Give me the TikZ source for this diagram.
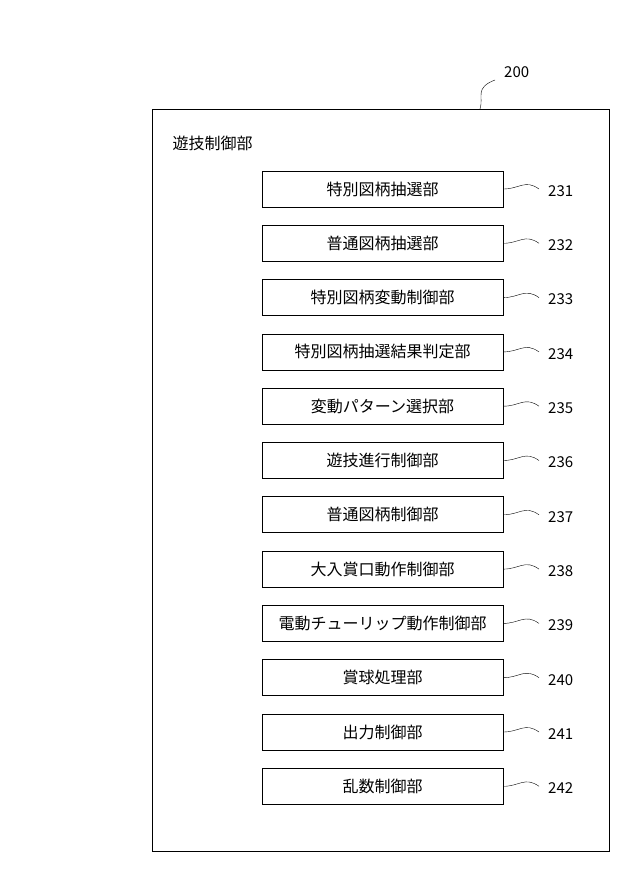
\documentclass[tikz,border=0pt]{standalone}
\usepackage{fontspec}
\setmainfont{Noto Sans CJK JP}
\begin{document}
\begin{tikzpicture}[x=1pt,y=-1pt,
  partbox/.style={draw, line width=0.8pt, minimum width=241pt, minimum height=36pt, font=\fontsize{16}{16}\selectfont},
  reflabel/.style={font=\fontsize{15}{15}\selectfont, anchor=west, inner sep=1pt}]
\useasboundingbox (0,0) rectangle (640,876);
\draw[line width=0.8pt] (152,109) rectangle (609,851);
\node[anchor=west, font=\fontsize{16}{16}\selectfont] (title) at (169,143) {遊技制御部};
\coordinate (top) at (480,109);
\coordinate (end200) at (495,80);
\node[reflabel] (lbl200) at (503,72) {200};
\draw (top) .. controls (484,97) and (474,88) .. (end200);
\foreach \i/\name in {0/特別図柄抽選部, 1/普通図柄抽選部, 2/特別図柄変動制御部, 3/特別図柄抽選結果判定部, 4/変動パターン選択部, 5/遊技進行制御部, 6/普通図柄制御部, 7/大入賞口動作制御部, 8/電動チューリップ動作制御部, 9/賞球処理部, 10/出力制御部, 11/乱数制御部}{
  \pgfmathtruncatemacro{\num}{231+\i}
  \node[partbox] (box\num) at (382.5,189+\i*54.3) {\name};
  \node[reflabel] (lbl\num) at (547,191+\i*54.3) {\num};
  \coordinate (end\num) at (539,189+\i*54.3);
  \draw (box\num.east) .. controls ([xshift=16pt]box\num.east) and ([xshift=-14pt,yshift=10pt]end\num) .. (end\num);
}
\end{tikzpicture}
\end{document}
